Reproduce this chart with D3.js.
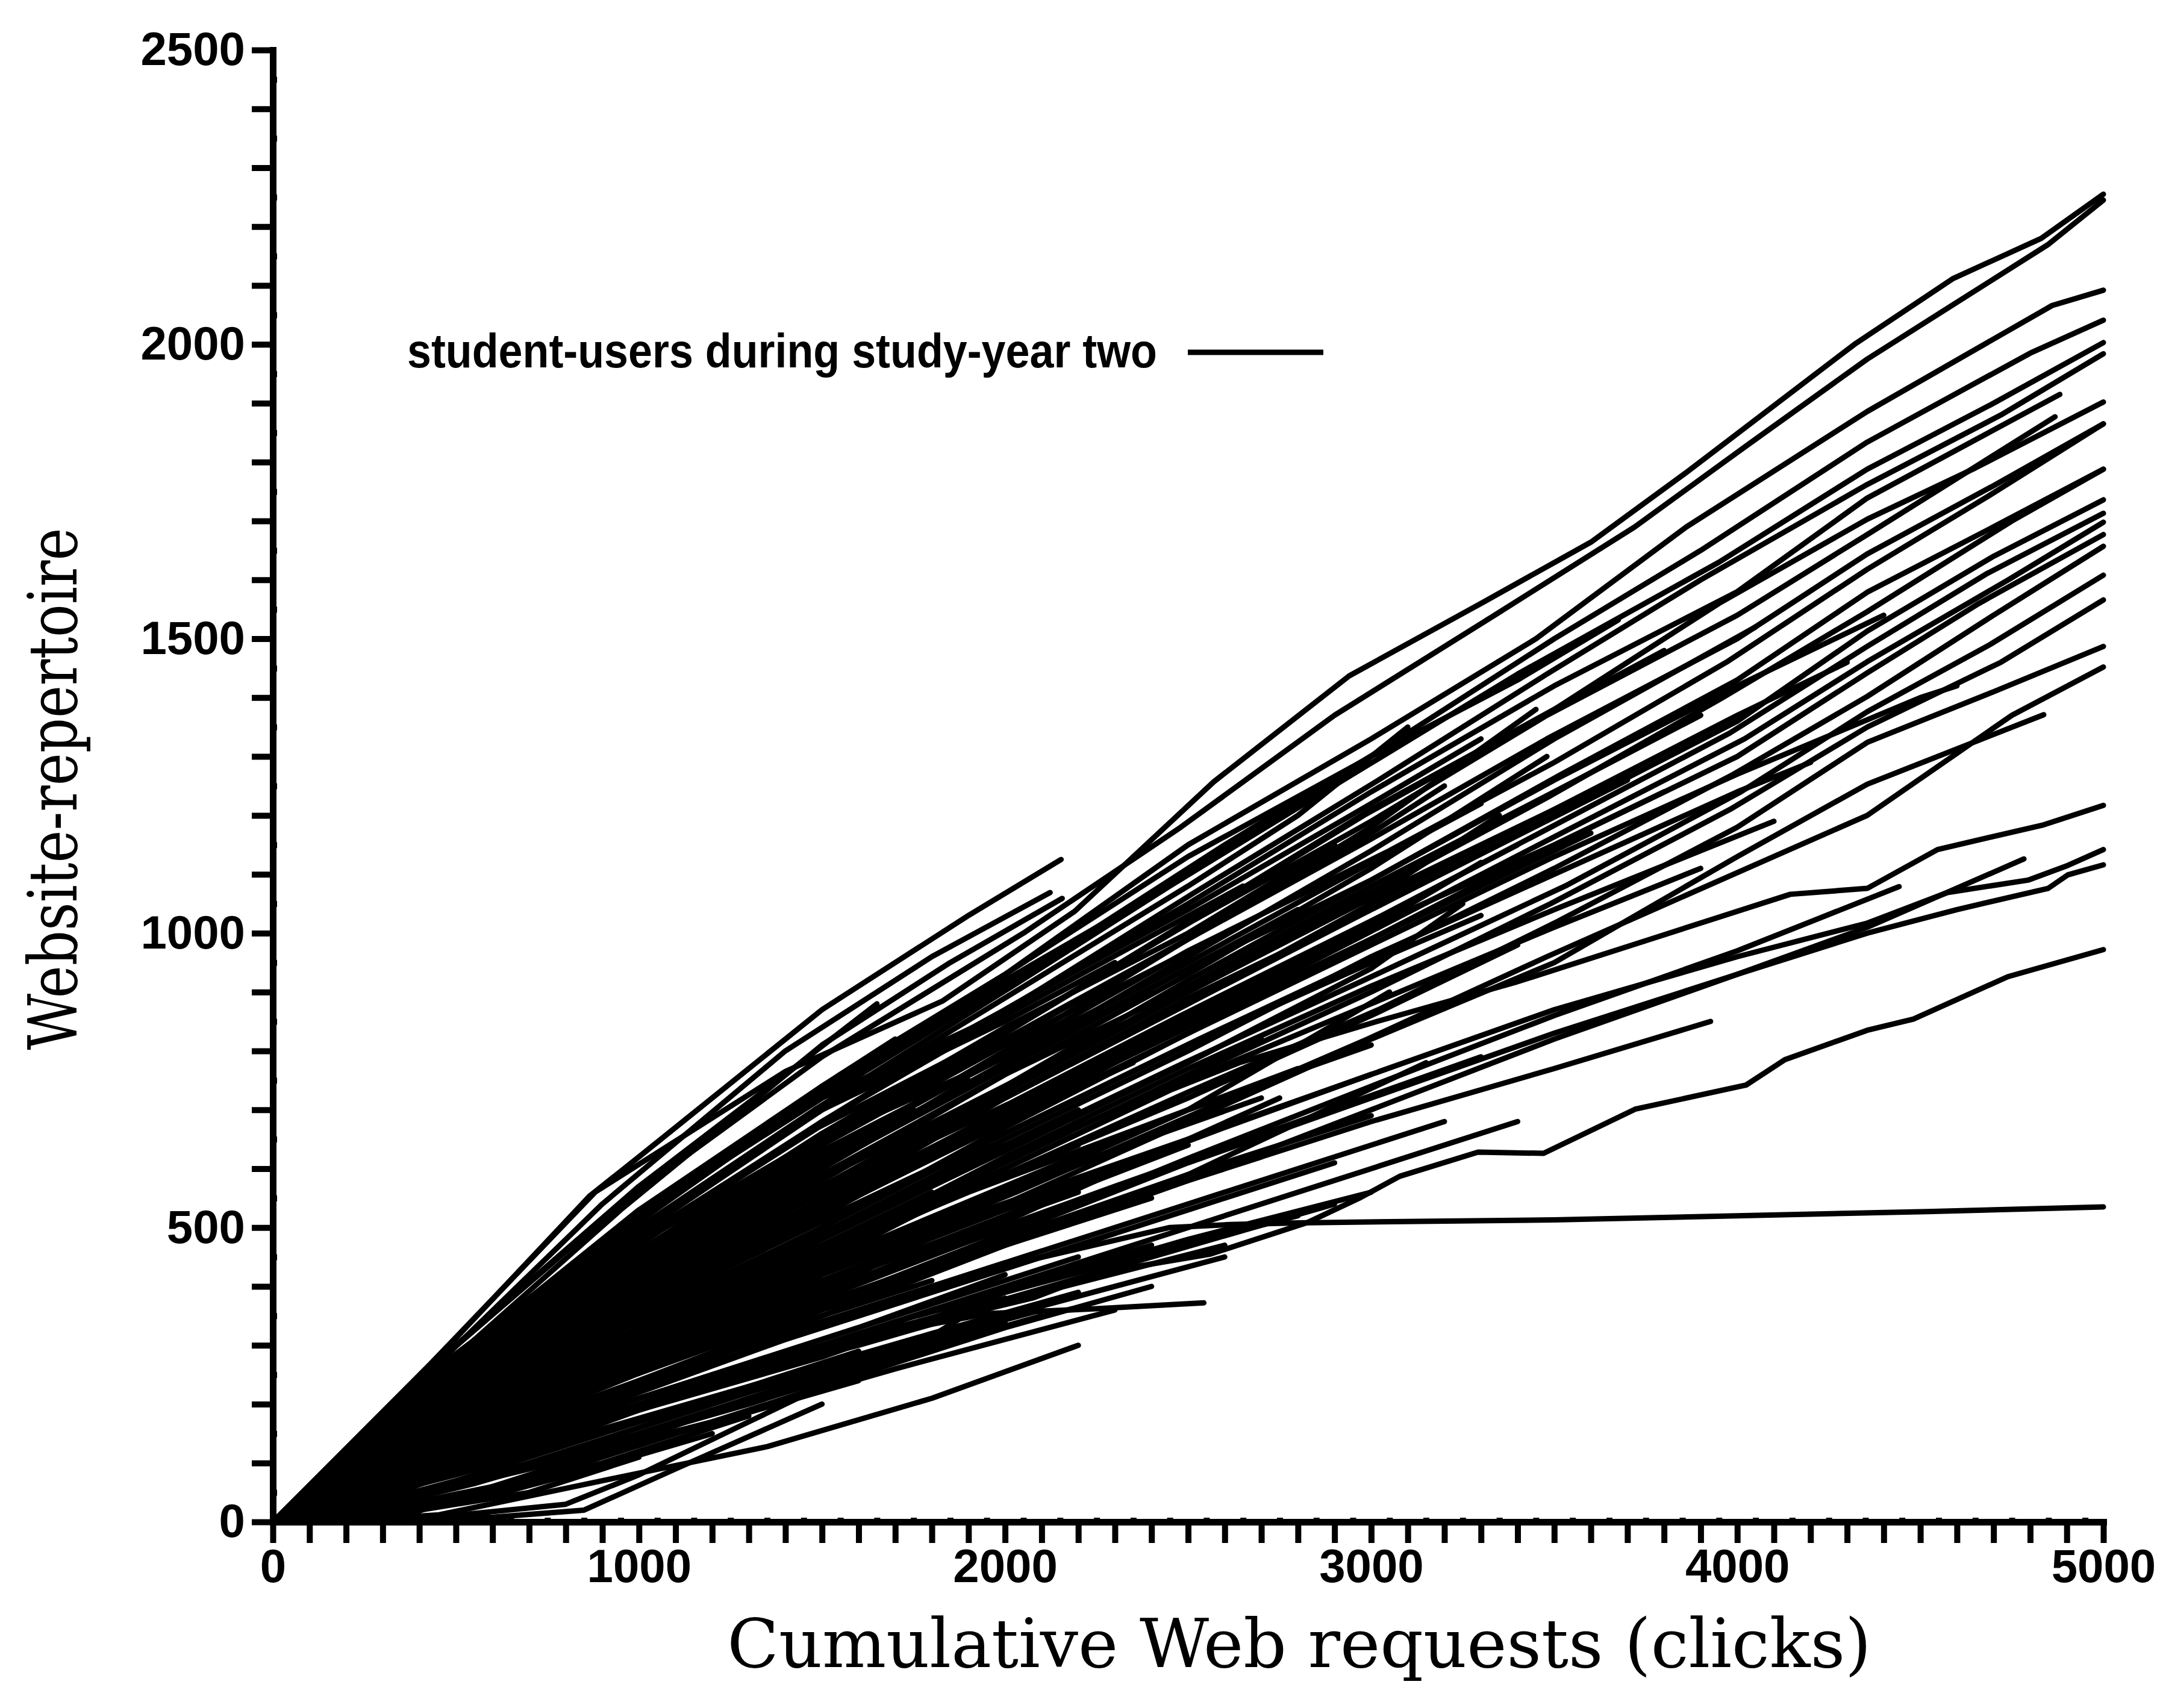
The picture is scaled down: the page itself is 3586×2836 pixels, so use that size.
<!DOCTYPE html>
<html><head><meta charset="utf-8">
<script src="https://cdn.jsdelivr.net/npm/d3@7"></script>
<style>html,body{margin:0;padding:0;background:#fff;}svg{display:block;}</style>
</head><body>
<svg id="chart" width="3586" height="2836"></svg>
<script>
// ---- tick labels ----
const xTickLabels = [0, 1000, 2000, 3000, 4000, 5000];
const yTickLabels = [0, 500, 1000, 1500, 2000, 2500];

// ---- users whose logs reach 5000 clicks: [clicks, repertoire] ----
const fullUsers = [
  [[0,0],[430,268],[880,560],[1400,765],[1830,885],[2190,1037],[2570,1257],[2940,1437],[3300,1560],[3600,1664],[3860,1782],[4320,2000],[4590,2112],[4830,2180],[5000,2255]],
  [[0,0],[400,245],[960,545],[1500,790],[2050,1000],[2480,1180],[2900,1370],[3350,1545],[3720,1690],[4030,1830],[4355,1975],[4850,2170],[5000,2245]],
  [[0,0],[450,262],[1000,520],[1550,760],[2000,930],[2500,1150],[3000,1330],[3450,1500],[3861,1690],[4355,1886],[4860,2066],[5000,2092]],
  [[0,0],[500,280],[1050,540],[1500,720],[2100,950],[2600,1150],[3050,1320],[3500,1500],[3900,1650],[4355,1834],[4800,1985],[5000,2041]],
  [[0,0],[480,250],[1000,500],[1480,700],[2020,910],[2450,1080],[2950,1270],[3400,1440],[3950,1630],[4355,1788],[4700,1900],[5000,2003]],
  [[0,0],[520,265],[1020,490],[1530,690],[1980,860],[2520,1070],[3020,1260],[3480,1440],[3900,1600],[4355,1762],[4720,1880],[5000,1984]],
  [[0,0],[460,230],[990,470],[1510,660],[2000,830],[2480,1010],[2980,1200],[3500,1380],[3950,1560],[4355,1703],[4650,1790],[5000,1902]],
  [[0,0],[510,235],[1000,450],[1470,640],[2010,820],[2530,1000],[3000,1160],[3480,1330],[4000,1500],[4355,1644],[4700,1760],[5000,1865]],
  [[0,0],[490,220],[1030,440],[1500,620],[1990,790],[2500,970],[3050,1140],[3500,1290],[3970,1460],[4355,1618],[4680,1740],[5000,1865]],
  [[0,0],[470,215],[980,420],[1520,610],[2000,770],[2470,930],[3000,1090],[3520,1270],[4000,1430],[4355,1579],[4700,1690],[5000,1788]],
  [[0,0],[530,225],[1010,410],[1490,580],[2030,750],[2550,920],[2970,1060],[3480,1230],[3960,1400],[4355,1546],[4750,1700],[5000,1788]],
  [[0,0],[500,205],[1000,400],[1500,570],[2000,720],[2500,880],[3000,1040],[3500,1200],[4000,1360],[4355,1513],[4700,1640],[5000,1736]],
  [[0,0],[480,200],[970,385],[1530,570],[2010,710],[2480,860],[3030,1030],[3460,1170],[3980,1340],[4355,1487],[4680,1610],[5000,1713]],
  [[0,0],[510,195],[1040,380],[1470,530],[1960,680],[2520,850],[2990,1000],[3520,1170],[4020,1330],[4355,1461],[4740,1600],[5000,1698]],
  [[0,0],[490,190],[1000,370],[1520,530],[2040,690],[2500,830],[3000,990],[3470,1140],[4000,1300],[4355,1442],[4660,1560],[5000,1677]],
  [[0,0],[520,195],[1010,360],[1490,510],[2000,660],[2530,820],[3010,960],[3500,1110],[3990,1270],[4355,1402],[4700,1540],[5000,1657]],
  [[0,0],[470,175],[990,340],[1500,490],[2020,640],[2490,780],[2980,920],[3530,1080],[4010,1240],[4355,1376],[4690,1490],[5000,1608]],
  [[0,0],[500,170],[1020,330],[1510,470],[1990,610],[2510,760],[3000,900],[3490,1050],[3980,1210],[4355,1350],[4720,1460],[5000,1566]],
  [[0,0],[480,160],[1000,310],[1480,450],[2000,590],[2500,730],[3020,870],[3510,1020],[4000,1180],[4355,1324],[4700,1410],[5000,1487]],
  [[0,0],[510,150],[980,290],[1520,430],[2030,560],[2470,680],[2990,820],[3480,960],[3990,1100],[4355,1200],[4750,1370],[5000,1452]]
];

// ---- lower users reaching 5000 clicks ----
const lowerUsers = [
  [[0,0],[500,150],[1000,300],[1500,440],[2000,600],[2450,733],[2640,780],[3016,850],[3392,916],[3769,991],[4145,1066],[4355,1076],[4547,1142],[4837,1184],[5000,1217]],
  [[0,0],[480,130],[1000,260],[1520,390],[2000,520],[2500,650],[3000,760],[3500,870],[4000,960],[4355,1017],[4574,1069],[4794,1090],[4903,1115],[5000,1142]],
  [[0,0],[520,120],[1010,240],[1490,360],[2010,490],[2500,610],[3000,720],[3500,830],[4000,930],[4355,1000],[4600,1040],[4849,1076],[4903,1099],[5000,1116]],
  [[0,0],[280,0],[340,6],[500,40],[800,100],[1000,140],[1300,210],[1722,286],[1900,354],[2079,381],[2256,423],[2561,455],[2828,509],[2971,551],[3078,587],[3292,628],[3471,626],[3721,701],[4024,742],[4130,785],[4355,835],[4481,854],[4739,926],[5000,972]],
  [[0,0],[500,115],[1000,225],[1500,335],[2000,435],[2450,500],[2614,505],[2800,508],[3500,513],[4000,520],[4519,527],[5000,535]]
];

// ---- users whose visible logs end before 5000 clicks ----
const partialUsers = [
  [[0,0],[500,260],[1000,500],[1500,700],[2000,870],[2500,1050],[3000,1240],[3500,1420],[4000,1580],[4355,1739],[4881,1915]],
  [[0,0],[460,240],[1010,480],[1490,670],[2020,840],[2510,1020],[3000,1190],[3480,1370],[4000,1540],[4355,1677],[4868,1877]],
  [[0,0],[500,150],[1000,290],[1500,420],[2000,540],[2500,680],[3000,820],[3500,950],[4000,1130],[4355,1253],[4837,1371]],
  [[0,0],[490,125],[1000,240],[1500,350],[2000,470],[2500,580],[3000,700],[3500,820],[4000,930],[4355,1010],[4783,1126]],
  [[0,0],[510,130],[990,250],[1510,370],[2000,490],[2510,620],[3000,740],[3500,860],[4000,970],[4442,1079]],
  [[0,0],[450,255],[1000,520],[1500,740],[2000,930],[2500,1130],[3000,1300],[3400,1430],[3675,1532]],
  [[0,0],[444,275],[866,554],[1000,620],[1500,870],[1900,1030],[2153,1125]],
  [[0,0],[420,250],[900,540],[1400,800],[1800,960],[2123,1069]],
  [[0,0],[470,265],[950,530],[1500,810],[1850,950],[2156,1059]],
  [[0,0],[500,100],[1000,210],[1500,300],[1954,354],[2250,362],[2543,372]],
  [[0,0],[500,125],[1000,240],[1500,360],[2000,470],[2500,580],[3000,680],[3500,770],[3927,850]],
  [[0,0],[500,220],[1000,430],[1500,620],[2000,800],[2500,990],[3000,1180],[3450,1380]],
  [[0,0],[520,180],[1000,350],[1490,520],[2000,680],[2510,850],[3000,1010],[3300,1120]],
  [[0,0],[480,230],[1000,440],[1500,640],[2000,820],[2500,990],[3000,1170],[3200,1250]],
  [[0,0],[500,160],[990,300],[1500,450],[2000,590],[2500,720],[3000,860],[3400,980]],
  [[0,0],[500,260],[1000,490],[1500,700],[2000,890],[2500,1080],[2800,1200],[3100,1350]],
  [[0,0],[490,200],[1000,390],[1500,560],[2000,730],[2500,900],[3000,1060],[3350,1200]],
  [[0,0],[500,150],[1000,290],[1500,430],[2000,560],[2500,700],[3050,900]],
  [[0,0],[510,175],[1010,330],[1500,480],[2000,630],[2500,780],[3000,940],[3250,1050]],
  [[0,0],[500,120],[1000,230],[1500,350],[2000,470],[2500,590],[3150,780]],
  [[0,0],[500,210],[1000,400],[1500,580],[2000,760],[2500,930],[3000,1110],[3480,1300]]
];

// ---- mid-band user logs ----
const bandUsers = [
  [[0,0],[500,200],[1000,380],[1500,540],[2000,700],[2500,860],[3000,1010],[3500,1150],[3800,1240]],
  [[0,0],[500,170],[1000,330],[1500,490],[2000,650],[2500,800],[3000,960],[3500,1100],[4000,1240],[4200,1290]],
  [[0,0],[500,190],[1000,360],[1500,530],[2000,690],[2500,840],[3000,990],[3600,1170]],
  [[0,0],[500,210],[1000,410],[1500,590],[2000,760],[2500,910],[3000,1080],[3500,1240],[3900,1370]],
  [[0,0],[500,230],[1000,440],[1500,630],[2000,790],[2500,950],[3000,1120],[3300,1220]],
  [[0,0],[500,180],[1000,350],[1500,500],[2000,660],[2500,810],[3000,950],[3300,1030]],
  [[0,0],[500,160],[1000,310],[1500,460],[2000,620],[2500,770],[3000,910],[3500,1040],[4100,1190]],
  [[0,0],[500,200],[1000,370],[1500,550],[2000,720],[2500,890],[3000,1040],[3700,1260]],
  [[0,0],[500,220],[1000,420],[1500,610],[2000,780],[2500,960],[3000,1140],[3500,1330],[4050,1520]],
  [[0,0],[500,240],[1000,450],[1500,640],[2000,830],[2500,1020],[3000,1210],[3500,1380],[3800,1480]],
  [[0,0],[500,190],[1000,380],[1500,560],[2000,740],[2500,920],[3000,1090],[3500,1260],[4000,1420],[4400,1540]],
  [[0,0],[500,170],[1000,350],[1500,520],[2000,690],[2500,860],[3000,1020],[3400,1150]],
  [[0,0],[500,150],[1000,300],[1500,450],[2000,600],[2500,750],[3000,880],[3500,1010],[3900,1110]],
  [[0,0],[500,250],[1000,480],[1500,680],[2000,870],[2500,1040],[3000,1220],[3300,1330]],
  [[0,0],[500,200],[1000,400],[1500,600],[2000,780],[2500,940],[2800,1040]],
  [[0,0],[500,180],[1000,360],[1500,540],[2000,720],[2500,880],[3000,1050],[3500,1210],[4000,1370],[4300,1460]],
  [[0,0],[500,210],[1000,390],[1500,570],[2000,740],[2500,900],[3000,1060],[3500,1210],[3700,1270]],
  [[0,0],[500,160],[1000,330],[1500,500],[2000,670],[2500,830],[3000,980],[3500,1130],[4000,1270],[4500,1400],[4600,1420]]
];

// ---- lower-band user logs ----
const lowBandUsers = [
  [[0,0],[300,50],[700,130],[1000,190],[1400,270],[1900,360],[2400,450],[2900,540]],
  [[0,0],[350,70],[750,150],[1100,220],[1600,300],[2100,390],[2600,470]],
  [[0,0],[250,40],[600,110],[1000,200],[1500,300],[2000,400],[2500,500],[3000,600],[3400,680]],
  [[0,0],[400,90],[850,180],[1300,270],[1800,370],[2200,450]],
  [[0,0],[300,60],[650,140],[1000,220],[1400,310],[1900,410],[2300,490]],
  [[0,0],[450,110],[900,210],[1350,300],[1800,400],[2300,500],[2800,600],[3200,680]],
  [[0,0],[350,90],[800,190],[1200,280],[1700,380],[2100,460]],
  [[0,0],[500,120],[1000,230],[1500,330],[2000,430],[2500,530],[2900,610]],
  [[0,0],[300,75],[700,170],[1100,260],[1600,360],[2000,440]],
  [[0,0],[400,110],[900,230],[1300,320],[1800,430],[2400,550]],
  [[0,0],[250,55],[600,140],[1000,240],[1500,350],[1800,410]],
  [[0,0],[450,130],[950,250],[1400,350],[1900,460],[2500,590],[3000,690]],
  [[0,0],[350,100],[750,200],[1200,300],[1700,410],[2200,520],[2700,620]],
  [[0,0],[500,140],[1000,260],[1500,380],[2000,500],[2400,590]],
  [[0,0],[300,85],[700,190],[1100,290],[1600,410],[2100,520]],
  [[0,0],[400,120],[900,250],[1400,370],[1900,480],[2300,570],[2800,680],[3300,790]],
  [[0,0],[250,70],[600,160],[1000,260],[1300,330]],
  [[0,0],[450,140],[900,270],[1400,400],[1900,520],[2500,650]],
  [[0,0],[350,110],[800,230],[1300,350],[1700,450],[2200,560]],
  [[0,0],[500,150],[1000,280],[1500,410],[2000,530],[2600,670],[3000,760]],
  [[0,0],[300,95],[700,210],[1100,310],[1500,410]],
  [[0,0],[400,130],[850,260],[1300,380],[1800,510],[2300,630]],
  [[0,0],[250,80],[650,190],[1000,290],[1500,420],[2000,540],[2400,620]],
  [[0,0],[450,150],[950,290],[1400,410],[1900,540]],
  [[0,0],[350,120],[800,250],[1200,360],[1700,490],[2200,610],[2700,720]],
  [[0,0],[500,160],[1000,300],[1500,440],[2000,570],[2500,700],[2800,770]],
  [[0,0],[300,100],[700,220],[1100,330],[1600,460],[2000,560]],
  [[0,0],[400,140],[850,280],[1300,410],[1800,540],[2200,640]],
  [[0,0],[250,85],[600,200],[1000,320],[1400,430],[1900,560],[2500,700],[3000,810]],
  [[0,0],[450,160],[900,300],[1400,440],[2000,600]],
  [[0,0],[200,20],[500,70],[800,130],[1200,210],[1600,290]],
  [[0,0],[300,30],[600,80],[900,140],[1300,220],[1800,310],[2100,360]],
  [[0,0],[350,40],[700,100],[1100,180],[1500,260]],
  [[0,0],[250,20],[550,65],[850,120],[1200,190]],
  [[0,0],[450,55],[850,120],[1300,200],[1700,280],[2100,350]],
  [[0,0],[100,2],[300,12],[600,45],[900,95],[1200,150]]
];

// ---- shorter user logs ----
const shortUsers = [
  [[0,0],[500,240],[1000,460],[1500,660],[2000,840],[2500,1000],[2900,1150]],
  [[0,0],[500,190],[1000,370],[1500,540],[2000,700],[2500,850],[2800,950]],
  [[0,0],[480,230],[1000,450],[1500,640],[2000,810],[2600,1000]],
  [[0,0],[500,170],[1000,320],[1500,470],[2000,610],[2700,820]],
  [[0,0],[500,240],[1000,460],[1500,650],[2000,790],[2400,900]],
  [[0,0],[500,270],[1000,510],[1500,730],[2000,920],[2500,1100],[2950,1280]],
  [[0,0],[500,180],[1000,340],[1500,490],[2000,640],[2200,700]],
  [[0,0],[500,140],[1000,270],[1500,400],[2000,520],[2500,640]],
  [[0,0],[500,260],[1000,500],[1500,700],[2000,850],[2300,950]],
  [[0,0],[500,250],[1000,470],[1500,680],[2000,860],[2650,1080]],
  [[0,0],[500,150],[1000,290],[1500,420],[2100,560]],
  [[0,0],[500,140],[1000,260],[1500,390],[2000,510],[2750,720]],
  [[0,0],[500,210],[1000,400],[1500,560],[2000,680],[2350,780]],
  [[0,0],[500,270],[1000,520],[1500,720],[2050,880]],
  [[0,0],[500,230],[1000,430],[1500,600],[1900,750]],
  [[0,0],[500,180],[1000,340],[1500,470],[1800,560]],
  [[0,0],[500,280],[1000,530],[1500,740],[1700,820]],
  [[0,0],[500,160],[1000,310],[1600,480]],
  [[0,0],[500,190],[1000,360],[1500,510],[1950,640]],
  [[0,0],[500,220],[1000,420],[1500,600]],
  [[0,0],[500,150],[1000,290],[1400,400]],
  [[0,0],[500,250],[1000,460],[1500,620],[1750,700]],
  [[0,0],[500,230],[1000,420],[1300,520]],
  [[0,0],[500,130],[1000,260],[1500,390],[1850,500]],
  [[0,0],[500,170],[1000,310],[1200,360]],
  [[0,0],[500,300],[1000,570],[1400,760],[1650,880]],
  [[0,0],[500,230],[1100,460]],
  [[0,0],[500,130],[1000,270],[1550,420]],
  [[0,0],[500,180],[900,300]],
  [[0,0],[400,200],[800,380]],
  [[0,0],[350,100],[700,200]],
  [[0,0],[500,230],[950,420]],
  [[0,0],[300,90],[600,180]],
  [[0,0],[450,130],[850,250]],
  [[0,0],[400,180],[750,320]],
  [[0,0],[500,150]],
  [[0,0],[300,40],[600,110],[1000,200]],
  [[0,0],[300,130],[650,260]],
  [[0,0],[200,2],[454,12],[900,70],[1351,128],[1800,210],[2200,300]],
  [[0,0],[400,5],[800,30],[1000,80],[1300,170],[1600,260]],
  [[0,0],[600,8],[850,20],[1100,90],[1500,200]]
];

// ---- low-slope user logs near the origin ----
const slowUsers = [
  [[0,0],[300,30],[700,90],[1200,170],[1700,260],[2300,360]],
  [[0,0],[250,15],[600,60],[1000,130],[1500,230],[2000,330],[2400,400]],
  [[0,0],[400,50],[900,130],[1400,220],[1900,310]],
  [[0,0],[350,60],[800,140],[1300,230],[1800,320],[2200,390]],
  [[0,0],[300,20],[700,70],[1100,150],[1600,240]],
  [[0,0],[500,80],[1000,170],[1500,260],[2000,350],[2600,450]],
  [[0,0],[450,90],[900,180],[1400,280],[2000,380]],
  [[0,0],[200,10],[500,35],[900,100],[1300,180]],
  [[0,0],[400,70],[800,150],[1200,240],[1700,340],[2300,440],[2800,520]],
  [[0,0],[300,45],[650,110],[1000,190],[1400,270]],
  [[0,0],[500,100],[1000,190],[1500,280],[2000,390],[2500,480],[3000,560]],
  [[0,0],[600,110],[1200,230],[1800,360],[2400,470]],
  [[0,0],[400,90],[800,170],[1200,250],[1600,330],[2000,420]],
  [[0,0],[150,5],[400,20],[700,50],[1000,110]],
  [[0,0],[500,60],[1000,150],[1500,250],[2000,340]]
];

const legendLabel = "student-users during study-year two";
const xTitle = "Cumulative Web requests (clicks)";
const yTitle = "Website-repertoire";

// ---- drawing ----
const svg = d3.select("#chart");
const x = d3.scaleLinear().domain([0, 5000]).range([453, 3492]);
const y = d3.scaleLinear().domain([0, 2500]).range([2527, 83]);

const line = d3.line().x(d => x(d[0])).y(d => y(d[1]));
const allSeries = [].concat(fullUsers, lowerUsers, partialUsers, bandUsers, lowBandUsers, shortUsers, slowUsers);

svg.append("g").selectAll("path").data(allSeries).join("path")
  .attr("d", line)
  .attr("fill", "none")
  .attr("stroke", "#000")
  .attr("stroke-width", 9)
  .attr("stroke-linejoin", "round")
  .attr("stroke-linecap", "round");

// axes
const xMinor = d3.range(0, 5001, 100);
const yMinor = d3.range(0, 2501, 100);
const xHalf = d3.range(50, 5000, 100);
const yHalf = d3.range(50, 2500, 100);

svg.append("g").attr("transform", `translate(0,${y(0)})`)
  .call(d3.axisBottom(x).tickValues(xMinor).tickSize(35).tickSizeOuter(0).tickPadding(10)
    .tickFormat(d => xTickLabels.includes(d) ? String(d) : ""));
svg.append("g").attr("transform", `translate(${x(0)},0)`)
  .call(d3.axisLeft(y).tickValues(yMinor).tickSize(35).tickSizeOuter(0).tickPadding(11)
    .tickFormat(d => yTickLabels.includes(d) ? String(d) : ""));
svg.append("g").attr("transform", `translate(0,${y(0)})`)
  .call(d3.axisBottom(x).tickValues(xHalf).tickSize(-7).tickSizeOuter(0).tickFormat(""))
  .call(g => g.select(".domain").remove());
svg.append("g").attr("transform", `translate(${x(0)},0)`)
  .call(d3.axisLeft(y).tickValues(yHalf).tickSize(-7).tickSizeOuter(0).tickFormat(""))
  .call(g => g.select(".domain").remove());

svg.selectAll(".domain").attr("stroke", "#000").attr("stroke-width", 11).attr("stroke-linecap", "square");
svg.selectAll(".tick line").attr("stroke", "#000").attr("stroke-width", 10);
svg.selectAll(".tick text")
  .attr("font-family", "'Liberation Sans', Arial, Helvetica, sans-serif")
  .attr("font-size", 78).attr("font-weight", "bold").attr("fill", "#000");

// legend
svg.append("text").attr("x", 676).attr("y", 610)
  .attr("font-family", "'Liberation Sans', Arial, Helvetica, sans-serif")
  .attr("font-size", 80).attr("font-weight", "bold")
  .attr("textLength", 1245).attr("lengthAdjust", "spacingAndGlyphs")
  .text(legendLabel);
svg.append("line").attr("x1", 1972).attr("x2", 2197).attr("y1", 585).attr("y2", 585)
  .attr("stroke", "#000").attr("stroke-width", 9);

// titles
svg.append("text").attr("x", 2157).attr("y", 2768).attr("text-anchor", "middle")
  .attr("font-family", "'DejaVu Serif', serif").attr("font-size", 112)
  .text(xTitle);
svg.append("text").attr("transform", "translate(127,1310) rotate(-90)").attr("text-anchor", "middle")
  .attr("font-family", "'DejaVu Serif', serif").attr("font-size", 112)
  .attr("textLength", 867).attr("lengthAdjust", "spacingAndGlyphs")
  .text(yTitle);
</script>
</body></html>
